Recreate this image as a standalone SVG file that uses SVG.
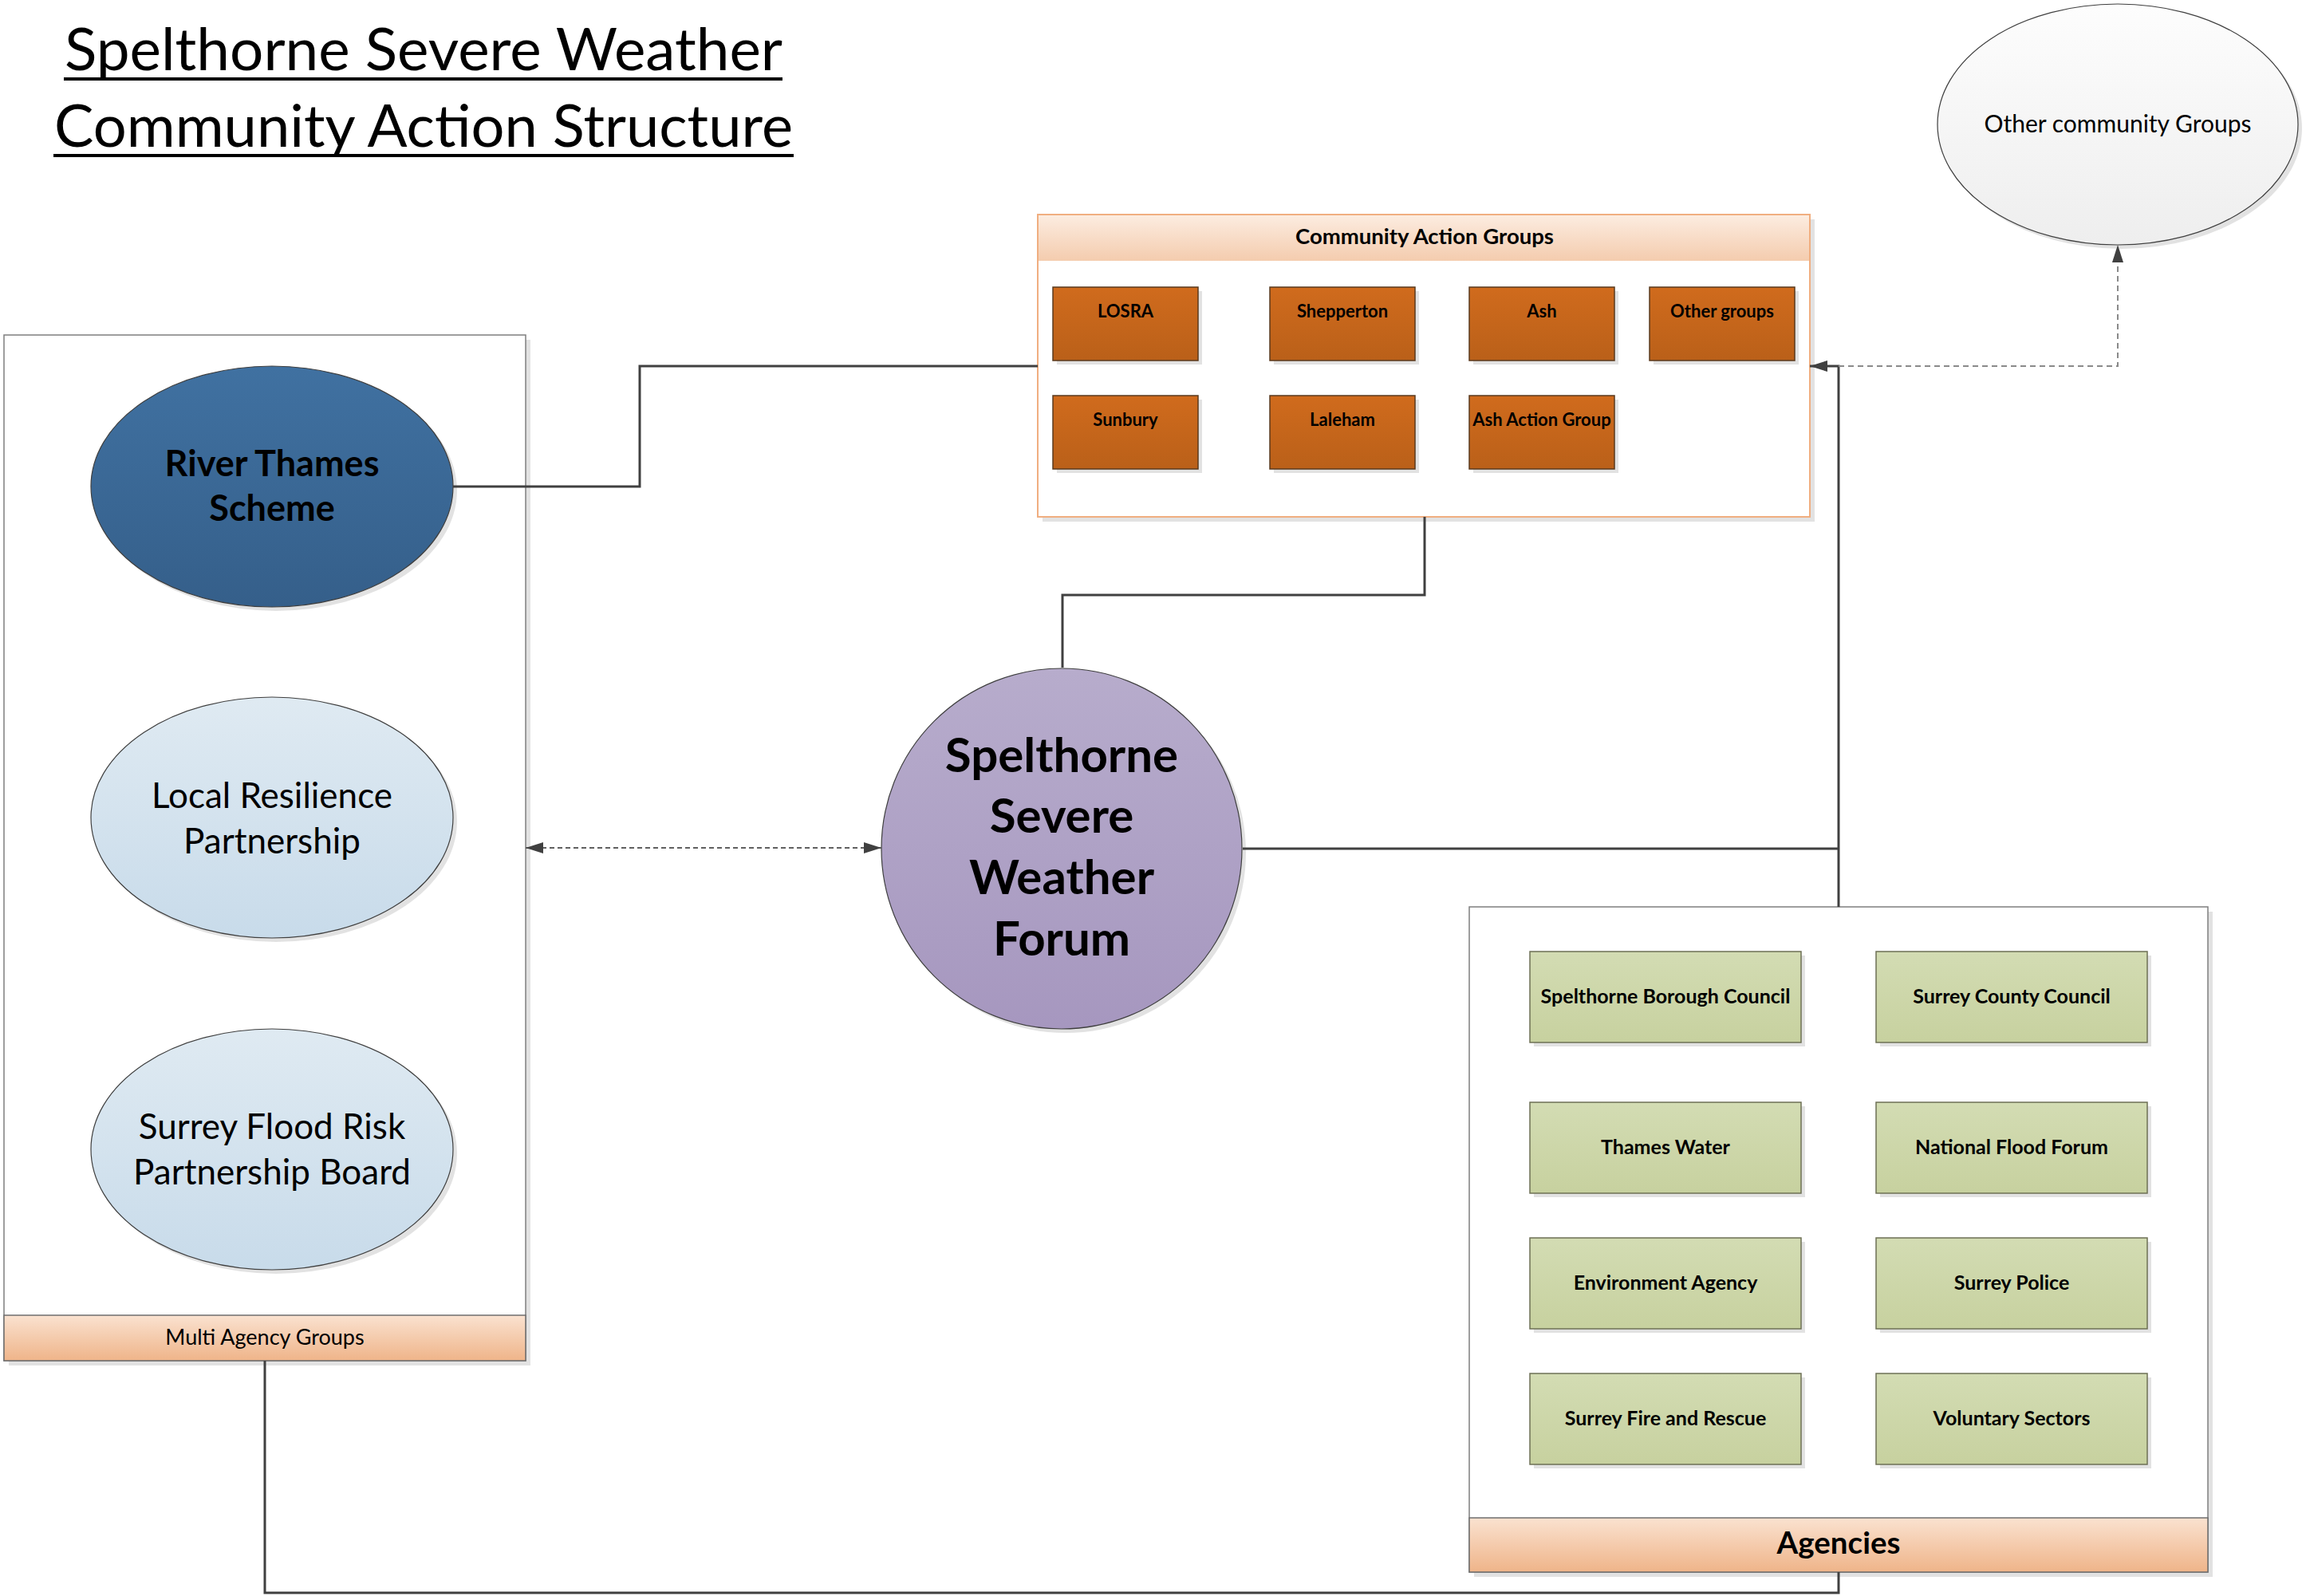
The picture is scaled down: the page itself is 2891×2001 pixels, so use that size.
<svg xmlns="http://www.w3.org/2000/svg" width="2891" height="2001" viewBox="0 0 2891 2001">
<defs>
<linearGradient id="gOrange" x1="0" y1="0" x2="0" y2="1"><stop offset="0" stop-color="#D06B1D"/><stop offset="1" stop-color="#BA6019"/></linearGradient>
<linearGradient id="gPeach" x1="0" y1="0" x2="0" y2="1"><stop offset="0" stop-color="#FAE2D0"/><stop offset="1" stop-color="#EFB489"/></linearGradient>
<linearGradient id="gPeachLight" x1="0" y1="0" x2="0" y2="1"><stop offset="0" stop-color="#FCECE0"/><stop offset="1" stop-color="#F4CCAE"/></linearGradient>
<linearGradient id="gGreen" x1="0" y1="0" x2="0" y2="1"><stop offset="0" stop-color="#D3DCB3"/><stop offset="1" stop-color="#C7D19F"/></linearGradient>
<linearGradient id="gPurple" x1="0" y1="0" x2="0" y2="1"><stop offset="0" stop-color="#B7ACCC"/><stop offset="1" stop-color="#A697BF"/></linearGradient>
<linearGradient id="gBlue" x1="0" y1="0" x2="0" y2="1"><stop offset="0" stop-color="#4071A1"/><stop offset="1" stop-color="#355F8A"/></linearGradient>
<linearGradient id="gLightBlue" x1="0" y1="0" x2="0" y2="1"><stop offset="0" stop-color="#DFEAF2"/><stop offset="1" stop-color="#C8DBEA"/></linearGradient>
<linearGradient id="gGray" x1="0" y1="0" x2="0" y2="1"><stop offset="0" stop-color="#FDFDFD"/><stop offset="1" stop-color="#EEEEEE"/></linearGradient>
<marker id="arrow" viewBox="0 0 22 14" refX="22" refY="7" markerWidth="22" markerHeight="14" markerUnits="userSpaceOnUse" orient="auto-start-reverse"><path d="M0,0 L22,7 L0,14 Z" fill="#404040"/></marker>
</defs>
<style>
.shadow{fill:#E2E2E2;stroke:none}
.cont{fill:#FFFFFF;stroke:#7F7F7F;stroke-width:1.5}
.band{fill:url(#gPeach);stroke:#6F6F6F;stroke-width:1.5}
.obox{fill:url(#gOrange);stroke:#5A3A1E;stroke-width:1.5}
.gbox{fill:url(#gGreen);stroke:#6E7055;stroke-width:1.5}
.ell{stroke:#3F3F3F;stroke-width:1.2}
.t{font-family:Lato,"Liberation Sans",sans-serif;fill:#000;text-anchor:middle}
.b{font-weight:bold}
.conn{fill:none;stroke:#404040;stroke-width:3}
.dash{fill:none;stroke:#606060;stroke-width:2;stroke-dasharray:6 4}
.dash2{fill:none;stroke:#8A8A8A;stroke-width:2;stroke-dasharray:7 5}
</style>
<rect width="2891" height="2001" fill="#FFFFFF"/>

<g id="title">
<text class="t" x="531" y="88" font-size="73" textLength="900" lengthAdjust="spacingAndGlyphs">Spelthorne Severe Weather</text>
<line x1="80" y1="99" x2="981" y2="99" stroke="#000" stroke-width="4"/>
<text class="t" x="531" y="184" font-size="73" textLength="926" lengthAdjust="spacingAndGlyphs">Community Action Structure</text>
<line x1="67" y1="195" x2="995" y2="195" stroke="#000" stroke-width="4"/>
</g>

<g id="multi-agency-groups">
<rect class="shadow" x="11" y="426" width="654" height="1286"/>
<rect class="cont" x="5" y="420" width="654" height="1286"/>
<rect class="band" x="5" y="1649" width="654" height="57"/>
<text class="t" x="332" y="1686" font-size="27">Multi Agency Groups</text>
</g>

<g id="river-thames-scheme">
<ellipse class="shadow" cx="346" cy="615" rx="227" ry="151"/>
<ellipse class="ell" cx="341" cy="610" rx="227" ry="151" fill="url(#gBlue)"/>
<text class="t b" x="341" y="597" font-size="45">River Thames</text>
<text class="t b" x="341" y="653" font-size="45">Scheme</text>
</g>

<g id="local-resilience-partnership">
<ellipse class="shadow" cx="346" cy="1030" rx="227" ry="151"/>
<ellipse class="ell" cx="341" cy="1025" rx="227" ry="151" fill="url(#gLightBlue)"/>
<text class="t" x="341" y="1013" font-size="44">Local Resilience</text>
<text class="t" x="341" y="1070" font-size="44">Partnership</text>
</g>

<g id="surrey-flood-risk">
<ellipse class="shadow" cx="346" cy="1446" rx="227" ry="151"/>
<ellipse class="ell" cx="341" cy="1441" rx="227" ry="151" fill="url(#gLightBlue)"/>
<text class="t" x="341" y="1428" font-size="44">Surrey Flood Risk</text>
<text class="t" x="341" y="1485" font-size="44">Partnership Board</text>
</g>

<g id="community-action-groups">
<rect class="shadow" x="1307" y="275" width="968" height="379"/>
<rect x="1301" y="269" width="968" height="379" fill="#FFFFFF" stroke="#F0AE80" stroke-width="2"/>
<rect x="1302" y="270" width="966" height="57" fill="url(#gPeachLight)"/>
<text class="t b" x="1786" y="306" font-size="27.5">Community Action Groups</text>
</g>

<g id="losra"><rect class="shadow" x="1325" y="365" width="182" height="92"/><rect class="obox" x="1320" y="360" width="182" height="92"/><text class="t b" x="1411" y="398" font-size="22">LOSRA</text></g>
<g id="shepperton"><rect class="shadow" x="1597" y="365" width="182" height="92"/><rect class="obox" x="1592" y="360" width="182" height="92"/><text class="t b" x="1683" y="398" font-size="22">Shepperton</text></g>
<g id="ash"><rect class="shadow" x="1847" y="365" width="182" height="92"/><rect class="obox" x="1842" y="360" width="182" height="92"/><text class="t b" x="1933" y="398" font-size="22">Ash</text></g>
<g id="other-groups"><rect class="shadow" x="2073" y="365" width="182" height="92"/><rect class="obox" x="2068" y="360" width="182" height="92"/><text class="t b" x="2159" y="398" font-size="22">Other groups</text></g>
<g id="sunbury"><rect class="shadow" x="1325" y="501" width="182" height="92"/><rect class="obox" x="1320" y="496" width="182" height="92"/><text class="t b" x="1411" y="534" font-size="22">Sunbury</text></g>
<g id="laleham"><rect class="shadow" x="1597" y="501" width="182" height="92"/><rect class="obox" x="1592" y="496" width="182" height="92"/><text class="t b" x="1683" y="534" font-size="22">Laleham</text></g>
<g id="ash-action-group"><rect class="shadow" x="1847" y="501" width="182" height="92"/><rect class="obox" x="1842" y="496" width="182" height="92"/><text class="t b" x="1933" y="534" font-size="22">Ash Action Group</text></g>

<g id="other-community-groups">
<ellipse class="shadow" cx="2660" cy="161" rx="226" ry="151"/>
<ellipse class="ell" cx="2655" cy="156" rx="226" ry="151" fill="url(#gGray)"/>
<text class="t" x="2655" y="166" font-size="30">Other community Groups</text>
</g>

<g id="forum">
<circle class="shadow" cx="1336" cy="1069" r="226"/>
<circle class="ell" cx="1331" cy="1064" r="226" fill="url(#gPurple)"/>
<text class="t b" x="1331" y="968" font-size="60">Spelthorne</text>
<text class="t b" x="1331" y="1044" font-size="60">Severe</text>
<text class="t b" x="1331" y="1121" font-size="60">Weather</text>
<text class="t b" x="1331" y="1198" font-size="60">Forum</text>
</g>

<g id="agencies">
<rect class="shadow" x="1848" y="1143" width="926" height="834"/>
<rect class="cont" x="1842" y="1137" width="926" height="834"/>
<rect class="band" x="1842" y="1903" width="926" height="68"/>
<text class="t b" x="2305" y="1948" font-size="38.5">Agencies</text>
</g>

<g id="spelthorne-borough-council"><rect class="shadow" x="1923" y="1198" width="340" height="114"/><rect class="gbox" x="1918" y="1193" width="340" height="114"/><text class="t b" x="2088" y="1258" font-size="25">Spelthorne Borough Council</text></g>
<g id="surrey-county-council"><rect class="shadow" x="2357" y="1198" width="340" height="114"/><rect class="gbox" x="2352" y="1193" width="340" height="114"/><text class="t b" x="2522" y="1258" font-size="25">Surrey County Council</text></g>
<g id="thames-water"><rect class="shadow" x="1923" y="1387" width="340" height="114"/><rect class="gbox" x="1918" y="1382" width="340" height="114"/><text class="t b" x="2088" y="1447" font-size="25">Thames Water</text></g>
<g id="national-flood-forum"><rect class="shadow" x="2357" y="1387" width="340" height="114"/><rect class="gbox" x="2352" y="1382" width="340" height="114"/><text class="t b" x="2522" y="1447" font-size="25">National Flood Forum</text></g>
<g id="environment-agency"><rect class="shadow" x="1923" y="1557" width="340" height="114"/><rect class="gbox" x="1918" y="1552" width="340" height="114"/><text class="t b" x="2088" y="1617" font-size="25">Environment Agency</text></g>
<g id="surrey-police"><rect class="shadow" x="2357" y="1557" width="340" height="114"/><rect class="gbox" x="2352" y="1552" width="340" height="114"/><text class="t b" x="2522" y="1617" font-size="25">Surrey Police</text></g>
<g id="surrey-fire-and-rescue"><rect class="shadow" x="1923" y="1727" width="340" height="114"/><rect class="gbox" x="1918" y="1722" width="340" height="114"/><text class="t b" x="2088" y="1787" font-size="25">Surrey Fire and Rescue</text></g>
<g id="voluntary-sectors"><rect class="shadow" x="2357" y="1727" width="340" height="114"/><rect class="gbox" x="2352" y="1722" width="340" height="114"/><text class="t b" x="2522" y="1787" font-size="25">Voluntary Sectors</text></g>

<g id="connectors">
<path class="conn" d="M568,610 H802 V459 H1301"/>
<path class="conn" d="M1786,648 V746 H1332 V837"/>
<path class="conn" d="M1558,1064 H2305"/>
<path class="conn" d="M2305,1137 V459 H2269" marker-end="url(#arrow)"/>
<path class="dash2" d="M2305,459 H2655 V307" marker-end="url(#arrow)"/>
<path class="dash" d="M659,1063 H1105" marker-start="url(#arrow)" marker-end="url(#arrow)"/>
<path class="conn" d="M332,1706 V1997 H2305 V1971"/>
</g>
</svg>
